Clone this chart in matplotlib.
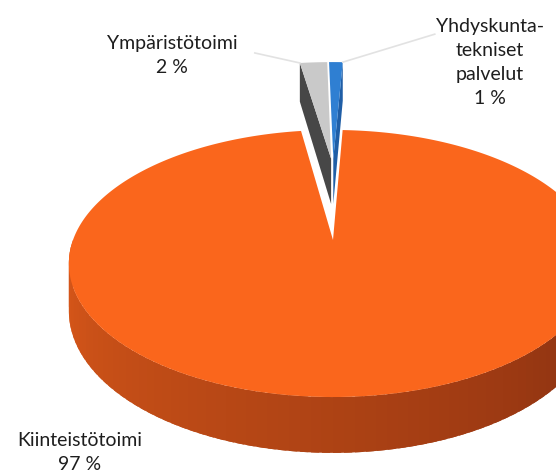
import matplotlib.pyplot as plt
import numpy as np

# slice data, in drawing order (clockwise from the back of the pie)
names = ["Ympäristötoimi", "Yhdyskunta-\ntekniset\npalvelut", "Kiinteistötoimi"]
shares = np.array([2, 1, 97])
pct_text = ["2 %", "1 %", "97 %"]
top_colors = ["#c9c9c9", "#2f7fd2", "#fa661c"]
wall_colors = ["#474747", "#1f5ea6", None]

# view of the tilted pie (pixel units)
CX, CY = 333, 240
RX, RY = 260, 129.4
K = 0.176          # perspective strength
DEPTH = 46         # thickness of the pie
START = 98.3       # angle where the first slice starts
explode = [0.09, 0.09, 0.0]
lift = [71, 71, 0]


def project(x, z, h=0.0):
    w = 1 + K * z
    return CX + RX * x / w, CY - RY * z / w + h / w


def arc(a0, a1, n=200):
    t = np.radians(np.linspace(a0, a1, n))
    return np.cos(t), np.sin(t)


def shade(a):
    # side wall gets darker from left to right
    f = np.clip((a + 180) / 180, 0, 1)
    c0 = np.array([0.86, 0.35, 0.10])
    c1 = np.array([0.50, 0.17, 0.06])
    return c0 + (c1 - c0) * f


bounds = START - 360 * np.concatenate([[0], np.cumsum(shares)]) / shares.sum()

fig = plt.figure(figsize=(5.56, 4.74), dpi=100)
ax = fig.add_axes([0, 0, 1, 1])
ax.set_xlim(0, 556)
ax.set_ylim(474, 0)
ax.axis("off")

# small exploded slices first (they sit behind the big one)
rims = []
for i in range(2):
    a0, a1 = bounds[i], bounds[i + 1]
    mid = np.radians((a0 + a1) / 2)
    ox, oz = explode[i] * np.cos(mid), explode[i] * np.sin(mid)
    ht, hb = -lift[i], DEPTH - lift[i]
    # visible radial wall: left one for the first slice, right one for the second
    edge = a0 if i == 0 else a1
    ex, ez = np.cos(np.radians(edge)), np.sin(np.radians(edge))
    xs = np.array([ox, ox + ex, ox + ex, ox])
    zs = np.array([oz, oz + ez, oz + ez, oz])
    hs = np.array([ht, ht, hb, hb])
    ax.fill(*project(xs, zs, hs), color=wall_colors[i], lw=0)
    x, z = arc(a1, a0)
    xs = np.concatenate([[ox], ox + x])
    zs = np.concatenate([[oz], oz + z])
    ax.fill(*project(xs, zs, ht), color=top_colors[i], lw=0)
    rims.append(project(ox + ex, oz + ez, ht))

# outer wall of the big slice (front half only)
seg = np.linspace(-180, 0, 91)
for s0, s1 in zip(seg[:-1], seg[1:]):
    x, z = arc(s0, min(s1 + 1.5, 0), 5)
    xs = np.concatenate([x, x[::-1]])
    zs = np.concatenate([z, z[::-1]])
    hs = np.concatenate([np.zeros(5), np.full(5, DEPTH)])
    ax.fill(*project(xs, zs, hs), color=shade((s0 + s1) / 2), lw=0)

# top face of the big slice
x, z = arc(bounds[3], bounds[2], 500)
xs = np.concatenate([[0], x])
zs = np.concatenate([[0], z])
ax.fill(*project(xs, zs), color=top_colors[2], lw=0)

# faint leader lines
ax.plot([rims[0][0] - 45, rims[0][0]], [rims[0][1] - 10, rims[0][1]],
        color="#e2e2e2", lw=1.2)
ax.plot([rims[1][0], rims[1][0] + 92], [rims[1][1], rims[1][1] - 28],
        color="#e2e2e2", lw=1.2)

txt = dict(ha="center", va="center", fontsize=14, color="#1e1e1e",
           family="Lato", linespacing=1.5)
ax.text(172, 55, names[0] + "\n" + pct_text[0], **txt)
ax.text(490, 62, names[1] + "\n" + pct_text[1], **txt)
ax.text(80, 453, names[2] + "\n" + pct_text[2], **txt)

fig.savefig("out.png", dpi=100)
